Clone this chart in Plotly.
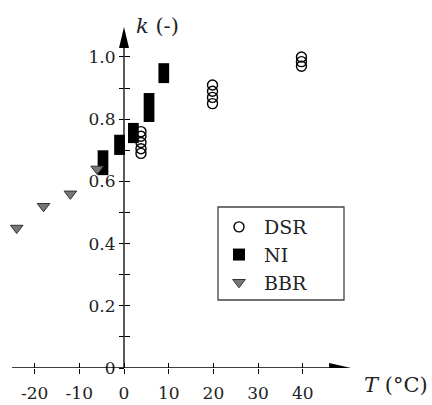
import plotly.graph_objects as go

# ---- data ----
dsr_T = [3.8, 3.8, 3.8, 3.8, 3.8, 19.8, 19.8, 19.8, 19.8, 39.7, 39.7, 39.7]
dsr_k = [0.69, 0.705, 0.725, 0.745, 0.76, 0.85, 0.87, 0.89, 0.91, 0.97, 0.985, 1.0]

ni_T = [-4.7, -1.0, 2.1, 5.6, 8.9]
ni_low = [0.62, 0.685, 0.723, 0.791, 0.916]
ni_high = [0.70, 0.75, 0.788, 0.884, 0.98]

bbr_T = [-24.0, -18.0, -12.0, -6.0]
bbr_k = [0.45, 0.52, 0.56, 0.64]

x_ticks = [-20, -10, 0, 10, 20, 30, 40]
x_ticklabels = ["-20", "-10", "0", "10", "20", "30", "40"]
y_ticks = [0, 0.1, 0.2, 0.3, 0.4, 0.5, 0.6, 0.7, 0.8, 0.9, 1.0]
y_ticklabels = ["0", "", "0.2", "", "0.4", "", "0.6", "", "0.8", "", "1.0"]

FONT = "DejaVu Serif"
XMIN, XMAX = -25.95, 51.9
YMIN, YMAX = 0.0, 1.106
PW, PH, ML, MT = 348, 344, 8, 24

def px2paper(px, py):
    return (px - ML) / PW, 1 - (py - MT) / PH

fig = go.Figure()

fig.add_trace(go.Bar(
    x=ni_T, y=[h - l for h, l in zip(ni_high, ni_low)], base=ni_low,
    width=2.4, marker=dict(color="black", line=dict(width=0)),
    name="NI", legendrank=2,
))
fig.add_trace(go.Scatter(
    x=dsr_T, y=dsr_k, mode="markers", name="DSR", legendrank=1,
    marker=dict(symbol="circle-open", size=10, color="black", line=dict(width=1.4)),
))
fig.add_trace(go.Scatter(
    x=bbr_T, y=bbr_k, mode="markers", name="BBR", legendrank=3,
    marker=dict(symbol="triangle-down", size=11, color="#777777",
                line=dict(width=1, color="#333333")),
))

ypos = (0 - XMIN) / (XMAX - XMIN)
tickfont = dict(family=FONT, size=17, color="#222222")

lx, ly = px2paper(214, 208)
fig.update_layout(
    width=432, height=405,
    margin=dict(l=ML, r=432 - ML - PW, t=MT, b=405 - MT - PH, autoexpand=False),
    paper_bgcolor="white", plot_bgcolor="white",
    showlegend=True,
    legend=dict(
        x=lx, y=ly, xanchor="left", yanchor="top",
        borderwidth=0, bgcolor="rgba(0,0,0,0)",
        font=dict(family=FONT, size=19, color="#222222"),
        traceorder="normal", tracegroupgap=0, itemwidth=40,
    ),
    xaxis=dict(
        range=[XMIN, XMAX], showgrid=False, zeroline=False, showline=False,
        tickvals=x_ticks, ticktext=x_ticklabels, ticks="outside", ticklen=5,
        tickwidth=1.2, tickcolor="black", tickfont=tickfont,
        ticklabelstandoff=5, automargin=False,
    ),
    xaxis2=dict(
        range=[XMIN, XMAX], overlaying="x", matches="x", anchor="y", side="bottom",
        showgrid=False, zeroline=False, showline=False, showticklabels=False,
        tickvals=x_ticks, ticks="inside", ticklen=5, tickwidth=1.2, tickcolor="black",
        automargin=False,
    ),
    yaxis=dict(
        range=[YMIN, YMAX], showgrid=False, zeroline=False, showline=False,
        anchor="free", position=ypos, automargin=False,
        tickvals=y_ticks, ticktext=y_ticklabels, ticks="outside", ticklen=5,
        tickwidth=1.2, tickcolor="black", tickfont=tickfont,
    ),
    yaxis2=dict(
        range=[YMIN, YMAX], overlaying="y", matches="y", anchor="free", position=ypos,
        showgrid=False, zeroline=False, showline=False, showticklabels=False,
        tickvals=y_ticks, ticks="inside", ticklen=5, tickwidth=1.2, tickcolor="black",
        automargin=False,
    ),
)

# dummy trace to make the overlay axes render
fig.add_trace(go.Scatter(x=[None], y=[None], xaxis="x2", yaxis="y2", showlegend=False))

# legend frame
bx0, by0 = px2paper(218, 300)
bx1, by1 = px2paper(344, 207)
fig.add_shape(type="rect", xref="paper", yref="paper", x0=bx0, x1=bx1, y0=by0, y1=by1,
              line=dict(color="#444444", width=1.3), fillcolor="rgba(0,0,0,0)")

# axis lines with arrows
x_tip = 50.8
y_tip = 1.096
fig.add_shape(type="line", xref="x", yref="y", x0=-25.06, x1=x_tip - 3, y0=0, y1=0,
              line=dict(color="black", width=1.3))
fig.add_shape(type="line", xref="x", yref="y", x0=0, x1=0, y0=-0.016, y1=y_tip - 0.03,
              line=dict(color="black", width=1.3))
fig.add_shape(type="path", xref="x", yref="y", xsizemode="pixel", ysizemode="pixel",
              xanchor=x_tip, yanchor=0, path="M0,0 L-22,5 L-22,-5 Z",
              fillcolor="black", line=dict(width=0))
fig.add_shape(type="path", xref="x", yref="y", xsizemode="pixel", ysizemode="pixel",
              xanchor=0, yanchor=y_tip, path="M0,0 L-5,-21 L5,-21 Z",
              fillcolor="black", line=dict(width=0))

# axis titles
tx, ty = px2paper(396, 385)
fig.add_annotation(text="<i>T</i> (°C)", xref="paper", yref="paper",
                   x=tx, y=ty, showarrow=False, xanchor="center", yanchor="middle",
                   font=dict(family=FONT, size=21, color="#222222"))
kx, ky = px2paper(157, 26)
fig.add_annotation(text="<i>k</i> (-)", xref="paper", yref="paper",
                   x=kx, y=ky, showarrow=False, xanchor="center", yanchor="middle",
                   font=dict(family=FONT, size=21, color="#222222"))

fig.write_html("out.html")
